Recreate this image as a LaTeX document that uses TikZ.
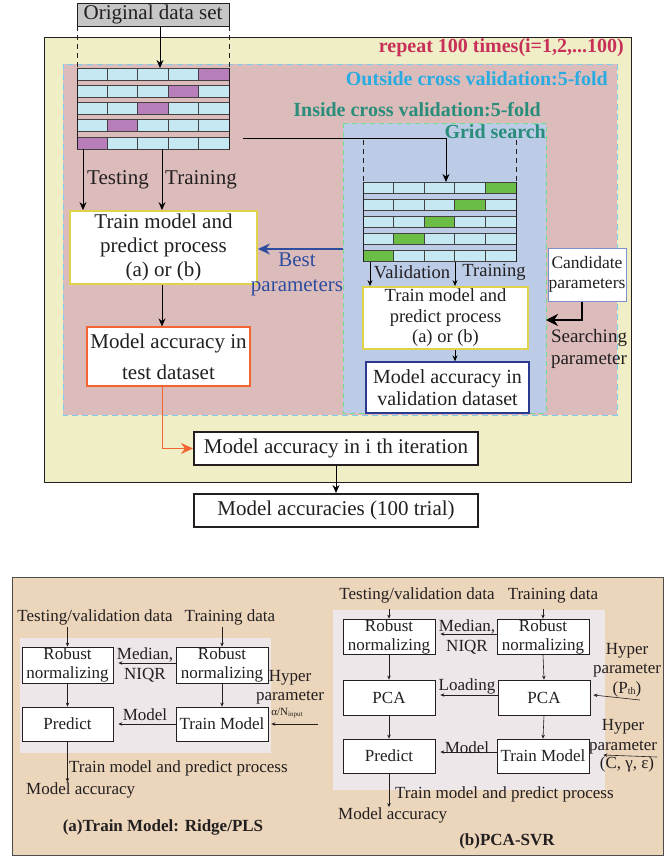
\documentclass[tikz,border=0pt]{standalone}
\usepackage{fontspec}
\setmainfont{Liberation Serif}
\usetikzlibrary{arrows.meta}

\definecolor{bgyellow}{HTML}{EFEEC6}
\definecolor{bgpink}{HTML}{DCBCBB}
\definecolor{bgblue}{HTML}{BCCCE6}
\definecolor{bgtan}{HTML}{EBD5BB}
\definecolor{bgpanel}{HTML}{EDE7E9}
\definecolor{cellcyan}{HTML}{C5E8F3}
\definecolor{cellpurple}{HTML}{B77EB9}
\definecolor{cellgreen}{HTML}{6CBD45}
\definecolor{repeatred}{HTML}{C8305A}
\definecolor{outsideblue}{HTML}{29ABE2}
\definecolor{insideteal}{HTML}{2A8D7B}
\definecolor{bestblue}{HTML}{2E4D9E}
\definecolor{accorange}{HTML}{F26531}
\definecolor{boxyellow}{HTML}{E0D24A}
\definecolor{valblue}{HTML}{2B3990}
\definecolor{candblue}{HTML}{7F8FCB}
\definecolor{txtgray}{HTML}{231F20}

\tikzset{
    big/.style={font=\fontsize{21}{24}\selectfont},
    mid/.style={font=\fontsize{18.5}{20.5}\selectfont},
    small/.style={font=\fontsize{17}{19.5}\selectfont},
    title/.style={font=\bfseries\fontsize{20}{22}\selectfont, anchor=east, inner sep=0pt},
    procbox/.style={draw=#1, line width=1.8pt, fill=white, align=center, inner sep=0pt},
    flowbox/.style={draw=txtgray, line width=0.8pt, fill=white, align=center, inner sep=0pt,
        minimum width=92pt, font=\fontsize{17}{19}\selectfont},
    lbl/.style={align=center, inner sep=0pt},
    arr/.style={-{Stealth[length=8pt,width=7pt]}, line width=1pt},
    sarr/.style={-{Stealth[length=4pt,width=3.5pt]}, line width=0.6pt, draw=txtgray},
    cell/.style={draw=txtgray!85, line width=0.9pt},
}

\begin{document}
\begin{tikzpicture}[x=1pt, y=-1pt, text=txtgray]
        \useasboundingbox (0,0) rectangle (672,857);

        % Background regions
        \draw[txtgray, line width=0.8pt, fill=bgyellow] (44,37) rectangle (631,482);
        \draw[outsideblue!60, dashed, line width=1pt, dash pattern=on 6pt off 4pt, fill=bgpink] (63,64) rectangle (617,415);
        \draw[insideteal!50!green!60, dashed, line width=0.8pt, dash pattern=on 5pt off 4pt, fill=bgblue] (343,123) rectangle (546,413);

        % Titles
        \node[title, repeatred] (rep) at (624,48) {repeat 100 times(i=1,2,...100)};
        \node[title, outsideblue] (outcv) at (608,79) {Outside cross validation:5-fold};
        \node[title, insideteal] (incv) at (541,110) {Inside cross validation:5-fold};
        \node[title, insideteal] (grid) at (546,132) {Grid search};

        % Original data set
        \node[draw=txtgray, line width=0.8pt, fill=gray!45, big, minimum width=152pt, minimum height=23pt, inner sep=0pt]
            (orig) at (153,14.5) {Original data set};
        \draw[txtgray, dashed, dash pattern=on 5pt off 4pt, line width=0.8pt] (77,26) -- (77,68);
        \draw[txtgray, dashed, dash pattern=on 5pt off 4pt, line width=0.8pt] (229,26) -- (229,68);
        \coordinate (oRowTop) at (160,68);
        \draw[arr] (orig.south -| oRowTop) -- (oRowTop);

        % Outer folds
        \foreach \r in {1,...,5} {
            \foreach \c in {1,...,5} {
                \pgfmathsetmacro{\yy}{68+17.3*(\r-1)}
                \pgfmathtruncatemacro{\hit}{6-\r}
                \ifnum\c=\hit
                    \draw[cell, fill=cellpurple] ({77+30.4*(\c-1)},\yy) rectangle ++(30.4,12);
                \else
                    \draw[cell, fill=cellcyan] ({77+30.4*(\c-1)},\yy) rectangle ++(30.4,12);
                \fi
            }
        }
        \draw[txtgray, line width=0.9pt] (77,68) -- (77,149.2);
        \draw[txtgray, line width=0.9pt] (229,68) -- (229,149.2);

        % Inner folds
        \draw[txtgray, dashed, dash pattern=on 5pt off 4pt, line width=0.8pt] (363,140) -- (363,182);
        \draw[txtgray, dashed, dash pattern=on 5pt off 4pt, line width=0.8pt] (516,140) -- (516,182);
        \foreach \r in {1,...,5} {
            \foreach \c in {1,...,5} {
                \pgfmathsetmacro{\yy}{182+17*(\r-1)}
                \pgfmathtruncatemacro{\hit}{6-\r}
                \ifnum\c=\hit
                    \draw[cell, fill=cellgreen] ({363+30.6*(\c-1)},\yy) rectangle ++(30.6,11.5);
                \else
                    \draw[cell, fill=cellcyan] ({363+30.6*(\c-1)},\yy) rectangle ++(30.6,11.5);
                \fi
            }
        }
        \draw[txtgray, line width=0.9pt] (363,182) -- (363,261.5);
        \draw[txtgray, line width=0.9pt] (516,182) -- (516,261.5);

        \coordinate (oRowEnd) at (243,138);
        \coordinate (iRowTop) at (446,182);
        \draw[arr] (oRowEnd) -| (iRowTop);

        % Outer train / test
        \node[procbox=boxyellow, big, minimum width=187pt, minimum height=73pt] (trainA) at (163.5,247.5)
            {Train model and\\predict process\\(a) or (b)};
        \node[procbox=accorange, line width=1.2pt, big, minimum width=163pt, minimum height=59pt,
            font=\fontsize{21}{31}\selectfont] (accA) at (168.5,356.5) {Model accuracy in\\test dataset};
        \coordinate (testTop) at (83,149);
        \coordinate (trainTop) at (162,149);
        \draw[arr] (testTop) -- (trainA.north -| testTop);
        \draw[arr] (trainTop) -- (trainA.north -| trainTop);
        \node[lbl, big] (testLbl) at (118,180) {Testing};
        \node[lbl, big] (trainLbl) at (201,180) {Training};
        \draw[arr] (trainA.south -| trainTop) -- (accA.north -| trainTop);

        % Inner train / validation
        \node[procbox=boxyellow, mid, minimum width=165pt, minimum height=62pt] (trainB) at (445.5,318)
            {Train model and\\predict process\\(a) or (b)};
        \node[procbox=valblue, line width=1.2pt, font=\fontsize{20}{22}\selectfont, minimum width=163pt, minimum height=51pt]
            (accB) at (447.5,387.5) {Model accuracy in\\validation dataset};
        \coordinate (valTop) at (370,262);
        \coordinate (trnTop) at (455,262);
        \draw[arr, -{Stealth[length=6pt,width=5pt]}] (valTop) -- (trainB.north -| valTop);
        \draw[arr, -{Stealth[length=6pt,width=5pt]}] (trnTop) -- (trainB.north -| trnTop);
        \node[lbl, mid] (valLbl) at (412,272) {Validation};
        \node[lbl, mid] (trnLbl) at (494,272) {Training};
        \draw[arr, -{Stealth[length=6pt,width=5pt]}] (trainB.south -| trnTop) -- (accB.north -| trnTop);

        % Candidate parameters
        \node[procbox=candblue, line width=1pt, font=\fontsize{17.5}{20}\selectfont, minimum width=78pt, minimum height=53pt]
            (cand) at (587,274.5) {Candidate\\parameters};
        \coordinate (searchEnd) at (546,320);
        \draw[line width=2.2pt, -{Stealth[length=12pt,width=12pt]}] ([xshift=-5pt]cand.south) |- (searchEnd);
        \node[lbl, font=\fontsize{19}{22}\selectfont] (search) at (589,349) {Searching\\parameter};

        % Best parameters
        \coordinate (bestStart) at (343,249);
        \draw[arr, bestblue, line width=1.5pt, -{Stealth[length=12pt,width=11pt]}] (bestStart) -- (trainA.east |- bestStart);
        \node[lbl, bestblue, font=\fontsize{21}{25}\selectfont] (best) at (297,274) {Best\\parameters};

        % Iteration and trials
        \node[draw=txtgray, line width=2pt, fill=white, big, minimum width=284pt, minimum height=33pt, inner sep=0pt]
            (iter) at (336,448.5) {Model accuracy in i th iteration};
        \node[draw=txtgray, line width=2pt, fill=white, big, minimum width=284pt, minimum height=33pt, inner sep=0pt]
            (trials) at (336,510.5) {Model accuracies (100 trial)};
        \draw[accorange, line width=1.8pt, -{Stealth[length=12pt,width=11pt]}] ([xshift=-6pt]accA.south) |- (iter.west);
        \draw[arr] (iter.south) -- (trials.north);

        % Bottom panel
        \draw[txtgray!80, line width=1pt, fill=bgtan] (12,577) rectangle (663,855);
        \fill[bgpanel] (20,638) rectangle (271,753);
        \fill[bgpanel] (333,610) rectangle (605,790);

        % (a) Ridge/PLS
        \node[lbl, small] (tvA) at (95,617) {Testing/validation data};
        \node[lbl, small] (trA) at (230,617) {Training data};
        \node[flowbox, minimum width=91pt, minimum height=36pt] (rnA1) at (67.5,665) {Robust\\normalizing};
        \node[flowbox, minimum height=36pt] (rnA2) at (222,665) {Robust\\normalizing};
        \node[flowbox, minimum width=91pt, minimum height=34pt] (predA) at (67.5,724) {Predict};
        \node[flowbox, minimum height=34pt] (tmA) at (222,724) {Train Model};
        \draw[sarr] ([yshift=-2pt]tvA.south -| rnA1) -- (rnA1.north);
        \draw[sarr] ([yshift=-2pt]trA.south -| rnA2) -- (rnA2.north);
        \draw[sarr] ([yshift=2pt]rnA2.west) -- ([xshift=5pt, yshift=2pt]rnA1.east);
        \node[lbl, small] (medA) at (145,665) {Median,\\NIQR};
        \draw[sarr] (rnA1.south) -- (predA.north);
        \draw[sarr] (rnA2.south) -- (tmA.north);
        \draw[sarr] (tmA.west) -- ([xshift=5pt]predA.east);
        \node[lbl, small] (modA) at (145,715) {Model};
        \coordinate (hypA) at (318,724);
        \draw[sarr] (hypA) -- ([xshift=3pt]tmA.east);
        \node[lbl, small] (hypLblA) at (290,687) {Hyper\\parameter};
        \node[lbl, font=\fontsize{11}{12}\selectfont] (alphaA) at (287,713) {α/N\raisebox{-0.2ex}{\fontsize{7}{8}\selectfont input}};
        \node[lbl, small, anchor=west] (maA) at (26,790) {Model accuracy};
        \draw[sarr] (predA.south) -- (maA.north -| predA);
        \node[lbl, small, anchor=west] (tpA) at (69,768) {Train model and predict process};
        \node[lbl, font=\bfseries\fontsize{17}{19}\selectfont] (capA) at (163,827) {(a)Train Model: Ridge/PLS};

        % (b) PCA-SVR
        \node[lbl, small] (tvB) at (417,595) {Testing/validation data};
        \node[lbl, small] (trB) at (553,595) {Training data};
        \node[flowbox, minimum height=35pt] (rnB1) at (389,636.5) {Robust\\normalizing};
        \node[flowbox, minimum height=35pt] (rnB2) at (543,636.5) {Robust\\normalizing};
        \node[flowbox, minimum height=35pt] (pcaB1) at (389,697.5) {PCA};
        \node[flowbox, minimum height=35pt] (pcaB2) at (544,697.5) {PCA};
        \node[flowbox, minimum height=34pt] (predB) at (389,756) {Predict};
        \node[flowbox, minimum height=34pt] (tmB) at (543,756) {Train Model};
        \draw[sarr] ([yshift=-6pt]tvB.south -| rnB1) -- (rnB1.north);
        \draw[sarr] ([yshift=-6pt]trB.south -| rnB2) -- (rnB2.north);
        \draw[sarr] ([yshift=2.5pt]rnB2.west) -- ([xshift=5pt, yshift=2.5pt]rnB1.east);
        \node[lbl, small] (medB) at (467,637) {Median,\\NIQR};
        \draw[sarr] (rnB1.south) -- (pcaB1.north);
        \draw[sarr] (rnB2.south) -- (pcaB2.north);
        \draw[sarr] ([yshift=2.5pt]pcaB2.west) -- ([xshift=5pt, yshift=2.5pt]pcaB1.east);
        \node[lbl, small] (loadB) at (467,686) {Loading};
        \draw[sarr] (pcaB1.south) -- (predB.north);
        \draw[sarr] (pcaB2.south) -- (tmB.north);
        \draw[sarr] ([yshift=4pt]tmB.west) -- ([xshift=5pt, yshift=4pt]predB.east);
        \node[lbl, small] (modB) at (467,748) {Model};
        \coordinate (hypP) at (640,700);
        \draw[sarr] (hypP) -- ([xshift=3pt, yshift=2.5pt]pcaB2.east);
        \node[lbl, small] (hypLblP) at (627,670) {Hyper\\parameter\\(P\raisebox{-0.2ex}{\fontsize{10}{10}\selectfont th})};
        \coordinate (hypC) at (657,757);
        \draw[sarr] (hypC) -- ([xshift=14pt, yshift=1pt]tmB.east);
        \node[lbl, small] (hypLblC) at (623,746) {Hyper\\parameter\\[-1pt]\hspace*{8pt}(C, γ, ε)};
        \node[lbl, small, anchor=west] (maB) at (338,815) {Model accuracy};
        \draw[sarr] (predB.south) -- (maB.north -| predB);
        \node[lbl, small, anchor=west] (tpB) at (395,794) {Train model and predict process};
        \node[lbl, font=\bfseries\fontsize{17}{19}\selectfont] (capB) at (507,841) {(b)PCA-SVR};

    \end{tikzpicture}
\end{document}
